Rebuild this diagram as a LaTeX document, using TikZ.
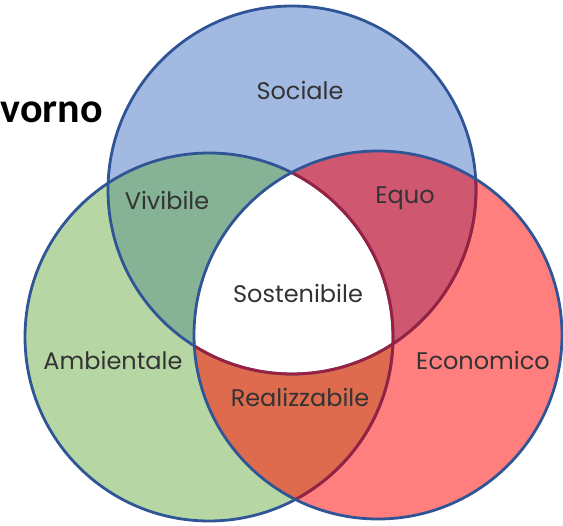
\documentclass[tikz,border=0pt]{standalone}
\usepackage{fontspec}
\setmainfont{Poppins}
\newfontfamily\titlefont{Carlito}
\definecolor{cblue}{HTML}{A2B9E2}
\definecolor{cgreen}{HTML}{B6D7A3}
\definecolor{cred}{HTML}{FF7F7F}
\definecolor{cbg}{HTML}{86B295}
\definecolor{cbr}{HTML}{CF5870}
\definecolor{cgr}{HTML}{DF6B4E}
\definecolor{cline}{HTML}{2F5597}
\definecolor{cline2}{HTML}{9B2040}
\definecolor{ctext}{HTML}{333333}
\begin{document}
\begin{tikzpicture}[x=1pt,y=-1pt,
  lbl/.style={font=\fontsize{24}{28}\selectfont, text=ctext, inner sep=0pt},
  ring/.style={line width=2.8pt}]
\useasboundingbox (0,0) rectangle (563,526);
\def\R{184}
\coordinate (S) at (292,190);
\coordinate (A) at (209,337);
\coordinate (E) at (378,335);
% base fills
\fill[cblue] (S) circle (\R);
\fill[cgreen] (A) circle (\R);
\fill[cred] (E) circle (\R);
% pairwise overlaps
\begin{scope}\clip (S) circle (\R); \fill[cbg] (A) circle (\R); \end{scope}
\begin{scope}\clip (S) circle (\R); \fill[cbr] (E) circle (\R); \end{scope}
\begin{scope}\clip (A) circle (\R); \fill[cgr] (E) circle (\R); \end{scope}
% centre
\begin{scope}\clip (S) circle (\R); \clip (A) circle (\R); \fill[white] (E) circle (\R); \end{scope}
% outlines
\draw[ring, cline] (S) circle (\R);
\draw[ring, cline] (A) circle (\R);
\draw[ring, cline] (E) circle (\R);
\begin{scope}\clip (E) circle (\R-1.4);
  \draw[ring, cline2] (S) circle (\R);
  \draw[ring, cline2] (A) circle (\R);
\end{scope}
% labels
\node[lbl] (soc) at (300,90) {Sociale};
\node[lbl] (viv) at (167,200) {Vivibile};
\node[lbl] (equ) at (405,198) {Equo};
\node[lbl] (sos) at (298,293) {Sostenibile};
\node[lbl] (amb) at (113,360) {Ambientale};
\node[lbl] (rea) at (300,397) {Realizzabile};
\node[lbl] (eco) at (483,360) {Economico};
\node[font=\titlefont\bfseries\fontsize{42}{46}\selectfont, inner sep=0pt, anchor=base east] (tit) at (103,123) {vorno};
\end{tikzpicture}
\end{document}
